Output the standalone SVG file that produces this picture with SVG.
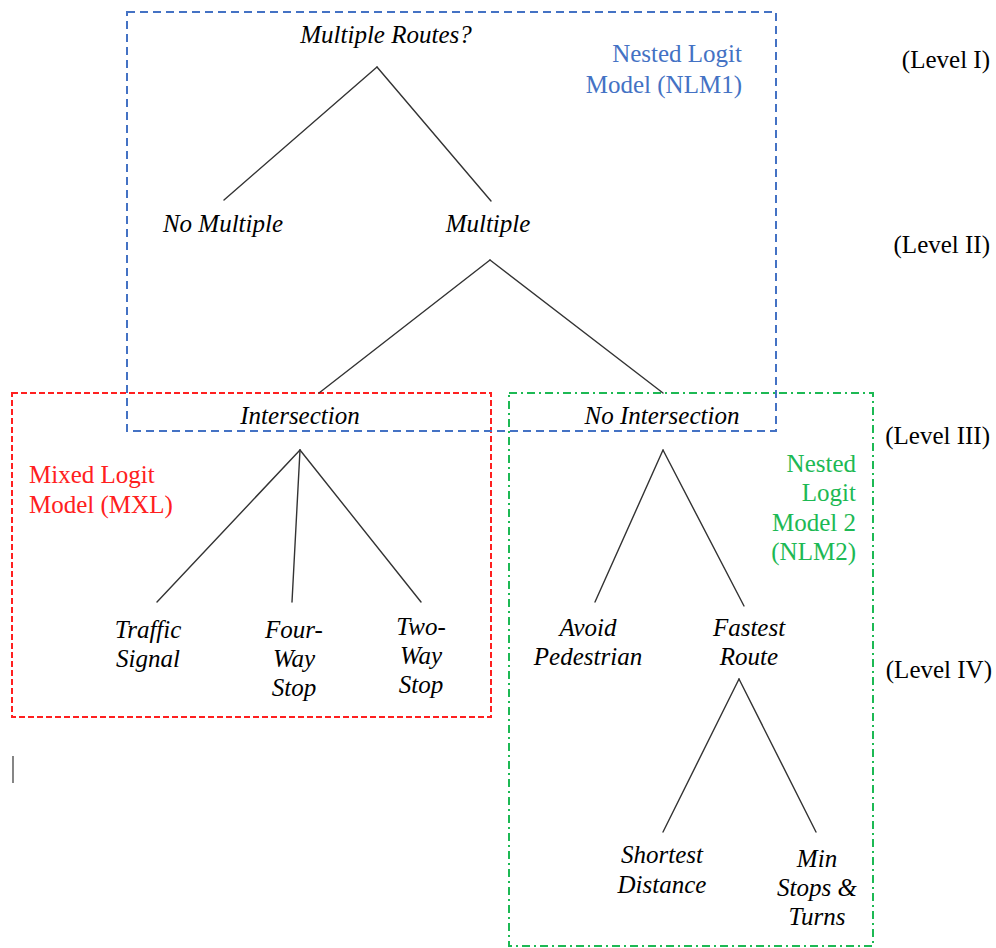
<svg xmlns="http://www.w3.org/2000/svg" width="996" height="948" viewBox="0 0 996 948">
<style>
  .node { font-family: "Liberation Serif", "Times New Roman", serif; font-style: italic; font-size: 25px; fill: #000000; text-anchor: middle; }
  .lvl { font-family: "Liberation Serif", "Times New Roman", serif; font-size: 25px; fill: #000000; text-anchor: end; }
  .lbl { font-family: "Liberation Serif", "Times New Roman", serif; font-size: 25px; }
  .edge { stroke: #333333; stroke-width: 1.4; fill: none; stroke-linecap: round; }
  .boxblue { fill: none; stroke: #4472C4; stroke-width: 2; stroke-dasharray: 8 5; }
  .boxred { fill: none; stroke: #FF2020; stroke-width: 2; stroke-dasharray: 6 3; }
  .boxgreen { fill: none; stroke: #1DB954; stroke-width: 2; stroke-dasharray: 8 4 2 4; }
</style>
<rect x="0" y="0" width="996" height="948" fill="#ffffff"/>

<g id="groups">
  <rect id="box-mxl" class="boxred" x="12" y="393" width="479" height="324"/>
  <rect id="box-nlm2" class="boxgreen" x="509" y="393" width="364" height="553"/>
  <rect id="box-nlm1" class="boxblue" x="127" y="12" width="649" height="419"/>
</g>

<g id="connectors">
  <line class="edge" x1="377" y1="67" x2="224" y2="200"/>
  <line class="edge" x1="377" y1="67" x2="491" y2="201"/>
  <line class="edge" x1="490" y1="260" x2="319" y2="393"/>
  <line class="edge" x1="490" y1="260" x2="663" y2="393"/>
  <line class="edge" x1="300" y1="450" x2="157" y2="602"/>
  <line class="edge" x1="300" y1="450" x2="292" y2="602"/>
  <line class="edge" x1="300" y1="450" x2="421" y2="602"/>
  <line class="edge" x1="663" y1="450" x2="595" y2="602"/>
  <line class="edge" x1="663" y1="450" x2="744" y2="606"/>
  <line class="edge" x1="739" y1="679" x2="663" y2="832"/>
  <line class="edge" x1="739" y1="679" x2="816" y2="832"/>
</g>

<g id="n-root"><text class="node" font-family="Liberation Serif" x="386" y="43">Multiple Routes?</text></g>
<g id="n-nomultiple"><text class="node" font-family="Liberation Serif" x="223" y="232">No Multiple</text></g>
<g id="n-multiple"><text class="node" font-family="Liberation Serif" x="488" y="232">Multiple</text></g>
<g id="n-intersection"><text class="node" font-family="Liberation Serif" x="300" y="424">Intersection</text></g>
<g id="n-nointersection"><text class="node" font-family="Liberation Serif" x="662" y="424">No Intersection</text></g>
<g id="n-traffic"><text class="node" font-family="Liberation Serif" x="148" y="638">Traffic</text><text class="node" font-family="Liberation Serif" x="148" y="667">Signal</text></g>
<g id="n-fourway"><text class="node" font-family="Liberation Serif" x="294" y="638">Four-</text><text class="node" font-family="Liberation Serif" x="294" y="667">Way</text><text class="node" font-family="Liberation Serif" x="294" y="696">Stop</text></g>
<g id="n-twoway"><text class="node" font-family="Liberation Serif" x="421" y="635">Two-</text><text class="node" font-family="Liberation Serif" x="421" y="664">Way</text><text class="node" font-family="Liberation Serif" x="421" y="693">Stop</text></g>
<g id="n-avoid"><text class="node" font-family="Liberation Serif" x="588" y="636">Avoid</text><text class="node" font-family="Liberation Serif" x="588" y="665">Pedestrian</text></g>
<g id="n-fastest"><text class="node" font-family="Liberation Serif" x="749" y="636">Fastest</text><text class="node" font-family="Liberation Serif" x="749" y="665">Route</text></g>
<g id="n-shortest"><text class="node" font-family="Liberation Serif" x="662" y="863">Shortest</text><text class="node" font-family="Liberation Serif" x="662" y="893">Distance</text></g>
<g id="n-minstops"><text class="node" font-family="Liberation Serif" x="817" y="867">Min</text><text class="node" font-family="Liberation Serif" x="817" y="896">Stops &amp;</text><text class="node" font-family="Liberation Serif" x="817" y="925">Turns</text></g>

<g id="label-nlm1" fill="#4472C4" text-anchor="end">
  <text class="lbl" font-family="Liberation Serif" x="742" y="62">Nested Logit</text>
  <text class="lbl" font-family="Liberation Serif" x="742" y="93">Model (NLM1)</text>
</g>
<g id="label-mxl" fill="#FF2020" text-anchor="start">
  <text class="lbl" font-family="Liberation Serif" x="29" y="483">Mixed Logit</text>
  <text class="lbl" font-family="Liberation Serif" x="29" y="513">Model (MXL)</text>
</g>
<g id="label-nlm2" fill="#1DB954" text-anchor="end">
  <text class="lbl" font-family="Liberation Serif" x="856" y="472">Nested</text>
  <text class="lbl" font-family="Liberation Serif" x="856" y="501">Logit</text>
  <text class="lbl" font-family="Liberation Serif" x="856" y="531">Model 2</text>
  <text class="lbl" font-family="Liberation Serif" x="856" y="560">(NLM2)</text>
</g>

<g id="levels">
  <text class="lvl" font-family="Liberation Serif" x="990" y="68">(Level I)</text>
  <text class="lvl" font-family="Liberation Serif" x="990" y="253">(Level II)</text>
  <text class="lvl" font-family="Liberation Serif" x="990" y="444">(Level III)</text>
  <text class="lvl" font-family="Liberation Serif" x="992" y="678">(Level IV)</text>
</g>

<line id="stray-mark" x1="13" y1="756" x2="13" y2="783" stroke="#444444" stroke-width="1.3"/>
</svg>
